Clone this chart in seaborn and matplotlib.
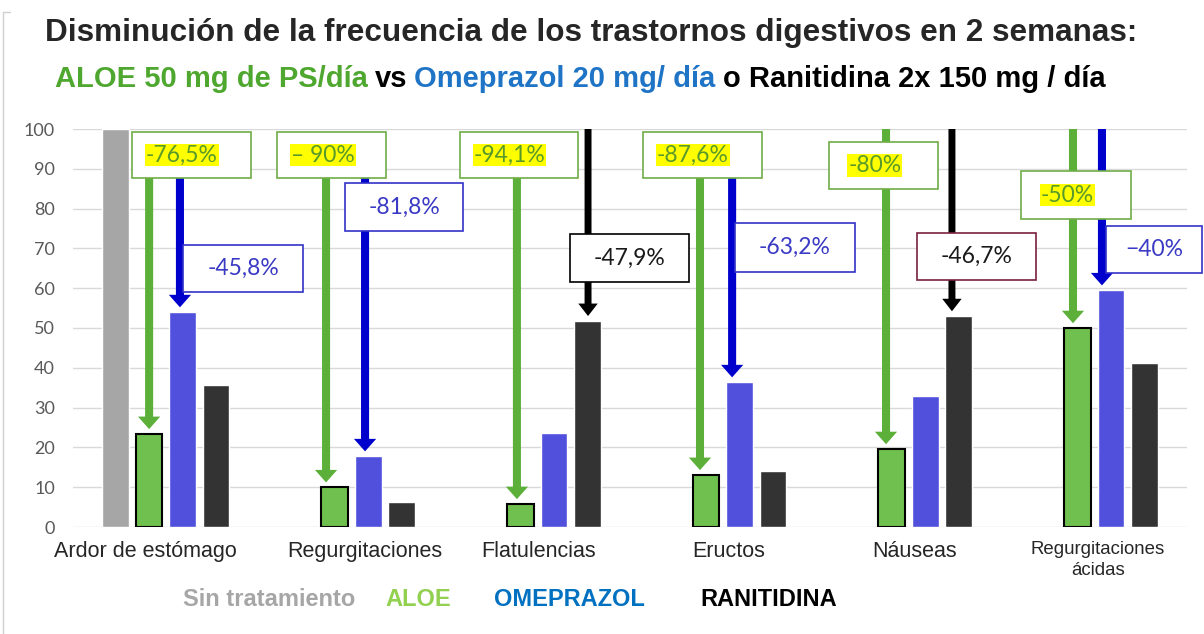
import numpy as np
import pandas as pd
import matplotlib
matplotlib.use("Agg")
import matplotlib.pyplot as plt
from matplotlib.patches import Rectangle
from matplotlib.lines import Line2D
import seaborn as sns

# ---------------- data ----------------
categories = ["Ardor de estómago", "Regurgitaciones", "Flatulencias",
              "Eructos", "Náuseas", "Regurgitaciones\nácidas"]
series = ["Sin tratamiento", "ALOE", "OMEPRAZOL", "RANITIDINA"]
sin_tratamiento = [100, None, None, None, None, None]
aloe = [23.4, 10.0, 5.8, 13.1, 19.6, 50.0]
omeprazol = [54.0, 17.8, 23.6, 36.4, 32.9, 59.5]
ranitidina = [35.7, 6.3, 51.8, 14.1, 53.0, 41.2]
y_ticks = [0, 10, 20, 30, 40, 50, 60, 70, 80, 90, 100]

# annotation labels: (category index, series, label)
annotations = [
    (0, "ALOE", "-76,5%"), (0, "OMEPRAZOL", "-45,8%"),
    (1, "ALOE", "– 90%"), (1, "OMEPRAZOL", "-81,8%"),
    (2, "ALOE", "-94,1%"), (2, "RANITIDINA", "-47,9%"),
    (3, "ALOE", "-87,6%"), (3, "OMEPRAZOL", "-63,2%"),
    (4, "ALOE", "-80%"), (4, "RANITIDINA", "-46,7%"),
    (5, "ALOE", "-50%"), (5, "OMEPRAZOL", "−40%"),
]

# ---------------- layout / style ----------------
box_geom = [
    (-0.182, 87.7, 0.641, 11.5), (0.093, 59.0, 0.646, 11.9),
    (0.599, 87.7, 0.587, 11.5), (0.965, 74.4, 0.636, 12.0),
    (1.585, 87.7, 0.635, 11.5), (2.177, 61.6, 0.641, 12.0),
    (2.570, 87.7, 0.641, 11.5), (3.066, 64.1, 0.646, 12.3),
    (3.572, 84.9, 0.587, 11.8), (4.046, 62.1, 0.641, 11.8),
    (4.606, 77.4, 0.593, 12.0), (5.064, 63.8, 0.517, 11.8),
]
arrow_dx = [-0.090, 0.076, -0.137, 0.073, -0.109, 0.274,
            -0.123, 0.050, -0.121, 0.234, -0.114, 0.042]
arrow_start = [87.7, 87.7, 87.7, 87.7, 87.7, 100,
               87.7, 87.7, 100, 100, 100, 100]
box_edge = {"ALOE": "#70ad47", "OMEPRAZOL": "#3232c8", "RANITIDINA": "#000000"}
text_col = {"ALOE": "#5a9a2a", "OMEPRAZOL": "#3a3ac4", "RANITIDINA": "#1a1a1a"}
arrow_col = {"ALOE": "#5cb03a", "OMEPRAZOL": "#0000cc", "RANITIDINA": "#000000"}
bar_colors = ["#a6a6a6", "#70c04f", "#5050dc", "#333333"]

W, H, DPI = 1204, 634, 100
sns.set_style("white")
plt.rcParams["font.family"] = ["Liberation Sans", "DejaVu Sans"]

fig = plt.figure(figsize=(W / DPI, H / DPI), dpi=DPI)
ax = fig.add_axes([73 / W, (H - 527) / H, (1187 - 73) / W, (527 - 129) / H])

rows = []
for ci, cat in enumerate(categories):
    for s, vals in zip(series, [sin_tratamiento, aloe, omeprazol, ranitidina]):
        if vals[ci] is not None:
            rows.append({"cat": cat, "grp": s, "val": vals[ci]})
df = pd.DataFrame(rows)

sns.barplot(data=df, x="cat", y="val", hue="grp", order=categories,
            hue_order=series, palette=bar_colors, saturation=1,
            width=0.72, gap=0.2, legend=False, ax=ax, zorder=2)

for p in ax.containers[1]:
    p.set_edgecolor("black")
    p.set_linewidth(1.5)

ax.set_ylim(0, 100)
ax.set_xlim(-0.5, 5.5)
ax.set_yticks(y_ticks)
ax.yaxis.grid(True, color="#d9d9d9", lw=1, zorder=0)
ax.set_axisbelow(True)
for sp in ax.spines.values():
    sp.set_visible(False)
ax.set_xlabel("")
ax.set_ylabel("")
ax.tick_params(axis="y", length=0, pad=13, labelsize=13, labelcolor="#595959")
ax.tick_params(axis="x", length=0, pad=10, labelsize=15.5)
for t in ax.get_yticklabels():
    t.set_fontfamily(["Lato", "DejaVu Sans"])

label_dx = [-0.11, 0.07, 0.01, 0.03, 0.03, 0.02]
ax.set_xticks([i + d for i, d in enumerate(label_dx)])
ax.set_xticklabels(categories)
xl = ax.get_xticklabels()
xl[5].set_fontsize(13.4)
xl[5].set_linespacing(1.3)
for t in xl:
    t.set_va("top")

val_map = {"ALOE": aloe, "OMEPRAZOL": omeprazol, "RANITIDINA": ranitidina}
for k, (ci, s, lab) in enumerate(annotations):
    x = ci + arrow_dx[k]
    tip = val_map[s][ci] + 1.2
    if s == "RANITIDINA":
        w, hw = 5.0, 14
    else:
        w, hw = 5.8, 16
    ax.annotate("", xy=(x, tip), xytext=(x, arrow_start[k]),
                arrowprops=dict(width=w, headwidth=hw, headlength=9,
                                shrink=0, color=arrow_col[s], lw=0),
                zorder=3, annotation_clip=False)
for k, (ci, s, lab) in enumerate(annotations):
    x0, y0, bw, bh = box_geom[k]
    ec = box_edge[s]
    if k == 9:
        ec = "#7a2040"
    ax.add_patch(Rectangle((x0, y0), bw, bh, facecolor="white", edgecolor=ec,
                           lw=1.2, zorder=4, clip_on=False))
    kw = dict(ha="center", va="center", fontsize=16.5, color=text_col[s],
              zorder=5, family=["Lato", "DejaVu Sans"], clip_on=False)
    if s == "ALOE":
        kw["bbox"] = dict(facecolor="#ffff00", edgecolor="none", pad=0.6)
        ax.text(x0 + bw * 0.42, y0 + bh / 2, lab, **kw)
    else:
        ax.text(x0 + bw / 2, y0 + bh / 2, lab, **kw)

# ---------------- titles ----------------
fig.text(45 / W, 1 - 33 / H, "Disminución de la frecuencia de los trastornos digestivos en 2 semanas:",
         fontsize=22.7, fontweight="bold", ha="left", va="center")

renderer = fig.canvas.get_renderer()


def seq_text(parts, x0, yc, fs, gap):
    x = x0
    for s, c in parts:
        t = fig.text(x / W, 1 - yc / H, s, fontsize=fs, fontweight="bold",
                     color=c, ha="left", va="center")
        ext = t.get_window_extent(renderer)
        x = ext.x1 + gap


seq_text([("ALOE 50 mg de PS/día", "#4ea72e"), ("vs", "black"),
          ("Omeprazol 20 mg/ día", "#1f74c6"), ("o Ranitidina 2x 150 mg / día", "black")],
         55, 79, 21, 7)

legend_items = [("Sin tratamiento", "#a6a6a6", 183), ("ALOE", "#92d050", 385),
                ("OMEPRAZOL", "#0070c0", 494), ("RANITIDINA", "black", 700)]
for s, c, xp in legend_items:
    fig.text(xp / W, 1 - 600 / H, s, fontsize=17, fontweight="bold",
             color=c, ha="left", va="center")

fig.add_artist(Line2D([3 / W, 3 / W], [0, 1 - 12 / H], color="#d0d0d0", lw=1))
fig.add_artist(Line2D([3 / W, 10 / W], [1 - 12 / H, 1 - 12 / H], color="#d0d0d0", lw=1))

fig.savefig("out.png", dpi=DPI)
